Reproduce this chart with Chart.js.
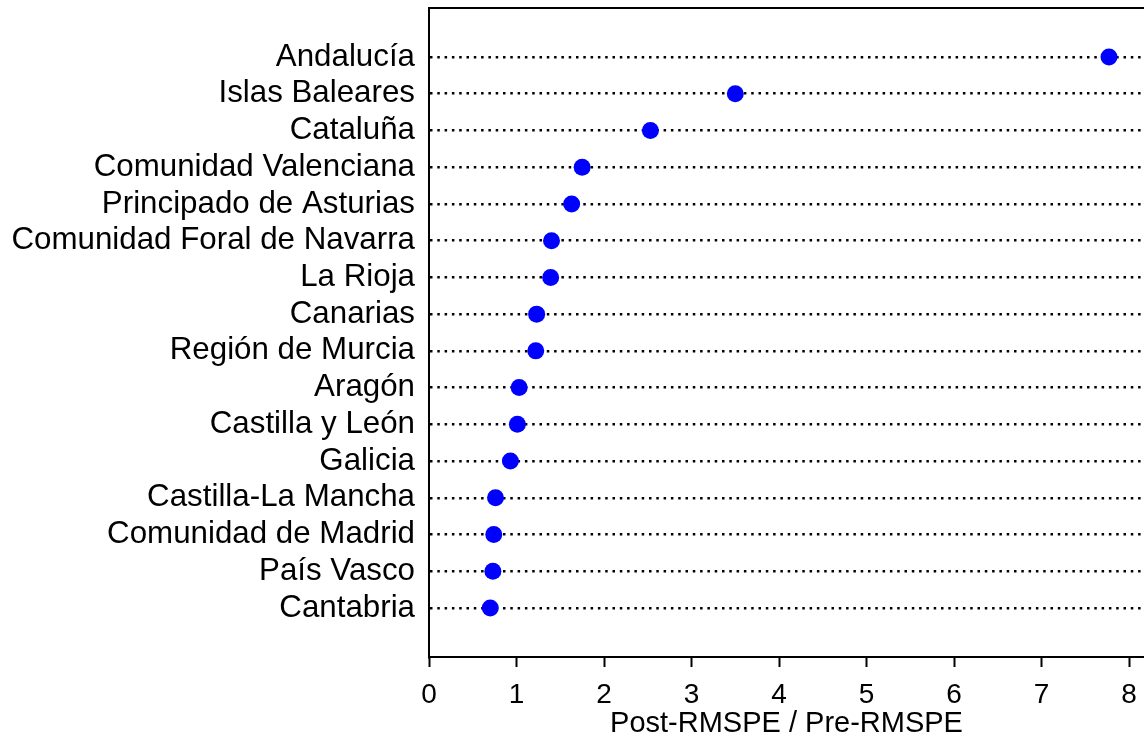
<!DOCTYPE html>
<html>
<head>
<meta charset="utf-8">
<script src="https://cdn.jsdelivr.net/npm/chart.js@4/dist/chart.umd.min.js"></script>
<style>
  html, body { margin: 0; padding: 0; background: #fff; overflow: hidden; }
  #wrap { width: 1144px; height: 738px; }
</style>
</head>
<body>
<div id="wrap"><canvas id="ratioChart" width="1144" height="738"></canvas></div>
<script>
        const regions = [
            'Andalucía', 'Islas Baleares', 'Cataluña', 'Comunidad Valenciana',
            'Principado de Asturias', 'Comunidad Foral de Navarra', 'La Rioja', 'Canarias',
            'Región de Murcia', 'Aragón', 'Castilla y León', 'Galicia',
            'Castilla-La Mancha', 'Comunidad de Madrid', 'País Vasco', 'Cantabria'
        ];
        const ratios = [7.77, 3.50, 2.53, 1.75, 1.63, 1.40, 1.39, 1.23, 1.22, 1.03, 1.01, 0.93, 0.76, 0.74, 0.73, 0.70];
        const xTicks = [0, 1, 2, 3, 4, 5, 6, 7, 8];

        const ink = '#000000';
        const dotBlue = '#0000FF';
        const fontFamily = '"Liberation Sans", Arial, sans-serif';

        const points = ratios.map((v, i) => ({ x: v, y: i }));

        // scales keep their fixed box, no extra room for overhanging labels
        function noOverhang(scale) {
            scale.paddingTop = 0;
            scale.paddingBottom = 0;
            scale.paddingLeft = 0;
            scale.paddingRight = 0;
        }

        new Chart(document.getElementById('ratioChart').getContext('2d'), {
            type: 'scatter',
            data: {
                datasets: [{
                    label: 'Post/Pre RMSPE',
                    data: points,
                    backgroundColor: dotBlue,
                    borderWidth: 0,
                    pointRadius: 8.5,
                    pointHoverRadius: 8.5,
                    clip: false
                }]
            },
            options: {
                responsive: false,
                animation: false,
                layout: { padding: 0, autoPadding: false },
                scales: {
                    x: {
                        type: 'linear',
                        position: 'bottom',
                        min: 0,
                        max: 8.17,
                        afterBuildTicks: function(scale) { scale.ticks = xTicks.map(v => ({ value: v })); },
                        afterFit: function(scale) { scale.height = 81; noOverhang(scale); },
                        grid: { display: true, drawOnChartArea: false, tickLength: 10, tickWidth: 2, tickColor: ink },
                        border: { display: true, color: ink, width: 2 },
                        ticks: { color: ink, font: { family: fontFamily, size: 28 }, padding: 11, maxRotation: 0 },
                        title: { display: true, text: 'Post-RMSPE / Pre-RMSPE', color: ink, font: { family: fontFamily, size: 29 }, padding: { top: 0, bottom: -3 } }
                    },
                    x2: {
                        type: 'linear',
                        position: 'top',
                        min: 0,
                        max: 8.17,
                        afterFit: function(scale) { scale.height = 8; noOverhang(scale); },
                        grid: { display: false },
                        border: { display: true, color: ink, width: 2 },
                        ticks: { display: false }
                    },
                    y: {
                        type: 'linear',
                        reverse: true,
                        min: -1.334,
                        max: regions.length - 1 + 1.334,
                        afterBuildTicks: function(scale) { scale.ticks = regions.map((_, i) => ({ value: i })); },
                        afterFit: function(scale) { scale.width = 429; noOverhang(scale); },
                        grid: { display: true, color: ink, lineWidth: 2.5, drawTicks: false, tickLength: 0 },
                        border: { display: true, color: ink, width: 2, dash: [2.5, 4.8] },
                        ticks: {
                            color: ink,
                            font: { family: fontFamily, size: 31.3 },
                            padding: 14,
                            autoSkip: false,
                            callback: function(value) { return regions[value]; }
                        }
                    }
                },
                plugins: {
                    legend: { display: false },
                    tooltip: { enabled: false }
                }
            }
        });
</script>
</body>
</html>
